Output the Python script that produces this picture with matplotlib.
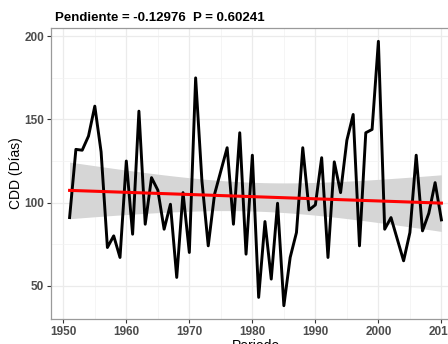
import numpy as np
import matplotlib
matplotlib.use('Agg')
import matplotlib.pyplot as plt

plt.rcParams['font.family'] = ['Liberation Sans', 'DejaVu Sans']

# Annual CDD series (days)
years = list(range(1951, 2011))
cdd = [91, 132, 131.5, 140, 158, 130.5, 73, 80, 67, 125,
       81, 155, 87, 115, 107.5, 84, 99, 55, 106, 70,
       175, 113, 74, 105, 119, 133, 87, 142, 69, 128.5,
       43, 88.6, 54, 99.6, 38, 67, 82, 133, 95.6, 98.6,
       127, 67, 124.5, 106, 137.5, 153, 74, 142, 144, 197,
       84, 91, 78, 65, 82, 128.5, 83, 93.6, 112, 89.6]
slope = -0.12976
p_value = 0.60241

x = np.array(years, dtype=float)
y = np.array(cdd, dtype=float)
n = len(x)
intercept = y.mean() - slope * x.mean()
fit = intercept + slope * x

# 95% confidence band of the linear fit
resid = y - fit
s = np.sqrt(np.sum(resid ** 2) / (n - 2))
sxx = np.sum((x - x.mean()) ** 2)
se = s * np.sqrt(1 / n + (x - x.mean()) ** 2 / sxx)
t = 2.0017
lo, hi = fit - t * se, fit + t * se

fig = plt.figure(figsize=(4.48, 3.44), dpi=100)
ax = fig.add_axes([51 / 448, 25 / 344, 409 / 448, 291 / 344])

ax.fill_between(x, lo, hi, color='#d6d6d6', lw=0, zorder=1)
ax.plot(x, y, color='black', lw=2.1, zorder=2)
ax.plot(x, fit, color='red', lw=2.2, zorder=3)

ax.set_xlim(1948.05, 2012.95)
ax.set_ylim(30, 205)
ax.set_xticks(range(1950, 2011, 10))
ax.set_xticks(range(1955, 2011, 10), minor=True)
ax.set_yticks([50, 100, 150, 200])
ax.set_yticks([75, 125, 175], minor=True)
ax.grid(which='major', color='#ebebeb', lw=0.9)
ax.grid(which='minor', color='#f2f2f2', lw=0.5)
ax.set_axisbelow(True)
for sp in ax.spines.values():
    sp.set_color('#9a9a9a')
    sp.set_linewidth(0.9)
ax.tick_params(which='major', length=3, color='#333333', width=0.8,
               labelsize=8.5, labelcolor='#4d4d4d', pad=2)
ax.tick_params(which='minor', length=0)
for lab in ax.get_xticklabels() + ax.get_yticklabels():
    lab.set_fontweight('bold')

ax.set_xlabel('Periodo', fontsize=10, labelpad=1)
ax.set_ylabel('CDD (Días)', fontsize=10, labelpad=1)
ax.set_title(f'Pendiente = {slope:.5f}  P = {p_value:.5f}', loc='left',
             fontsize=9.5, fontweight='bold', pad=5, x=0.01)

fig.savefig('out.png', dpi=100)
